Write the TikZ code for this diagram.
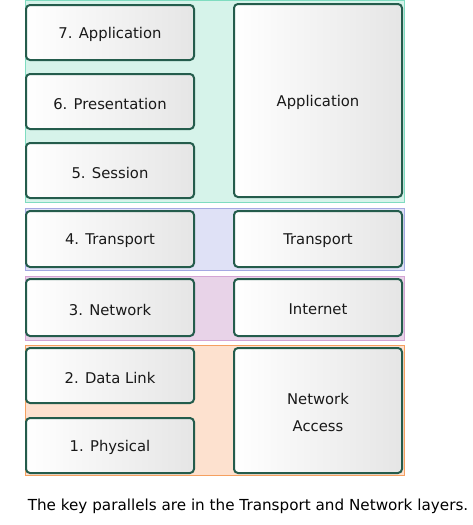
\documentclass[tikz,border=0pt]{standalone}
\usepackage{fontspec}
\setmainfont{DejaVu Sans}
\definecolor{boxline}{HTML}{245C4C}
\definecolor{gfill}{HTML}{D6F3EA}\definecolor{gline}{HTML}{7FDCC0}
\definecolor{bfill}{HTML}{DFE1F6}\definecolor{bline}{HTML}{A4A8E2}
\definecolor{pfill}{HTML}{E8D3E8}\definecolor{pline}{HTML}{D4A4D4}
\definecolor{ofill}{HTML}{FDE1CF}\definecolor{oline}{HTML}{F5A060}
\begin{document}
\begin{tikzpicture}[x=1pt,y=-1pt,
  layerbox/.style={draw=boxline,line width=2pt,rounded corners=4pt,left color=white,right color=black!10},
  lbl/.style={font=\fontsize{14.8}{27}\selectfont,align=center,text=black!90,yshift=-2pt}]
\useasboundingbox (0,0) rectangle (472,525);
% bands
\filldraw[fill=gfill,draw=gline,line width=1pt] (25,0.5) rectangle (404,202);
\filldraw[fill=bfill,draw=bline,line width=1pt] (25,208) rectangle (404,270);
\filldraw[fill=pfill,draw=pline,line width=1pt] (25,276) rectangle (404,340);
\filldraw[fill=ofill,draw=oline,line width=1pt] (25,345) rectangle (404,475);
% left boxes
\path[layerbox] (26,5) rectangle (194,60) node[midway,lbl] (l7) {7. Application};
\path[layerbox] (26,74) rectangle (194,129) node[midway,lbl] (l6) {6. Presentation};
\path[layerbox] (26,143) rectangle (194,198) node[midway,lbl] (l5) {5. Session};
\path[layerbox] (26,211) rectangle (194,267) node[midway,lbl] (l4) {4. Transport};
\path[layerbox] (26,279) rectangle (194,336) node[midway,lbl] (l3) {3. Network};
\path[layerbox] (26,348) rectangle (194,403) node[midway,lbl] (l2) {2. Data Link};
\path[layerbox] (26,418) rectangle (194,473) node[midway,lbl] (l1) {1. Physical};
% right boxes
\path[layerbox] (234,4) rectangle (402,197) node[midway,lbl] (ra) {Application};
\path[layerbox] (234,211) rectangle (402,267) node[midway,lbl] (rt) {Transport};
\path[layerbox] (234,279) rectangle (402,336) node[midway,lbl] (ri) {Internet};
\path[layerbox] (234,348) rectangle (402,473) node[midway,lbl] (rn) {Network\\Access};
% caption
\node[font=\fontsize{15.2}{18}\selectfont,text=black] (cap) at (248,506) {The key parallels are in the Transport and Network layers.};
\end{tikzpicture}
\end{document}
